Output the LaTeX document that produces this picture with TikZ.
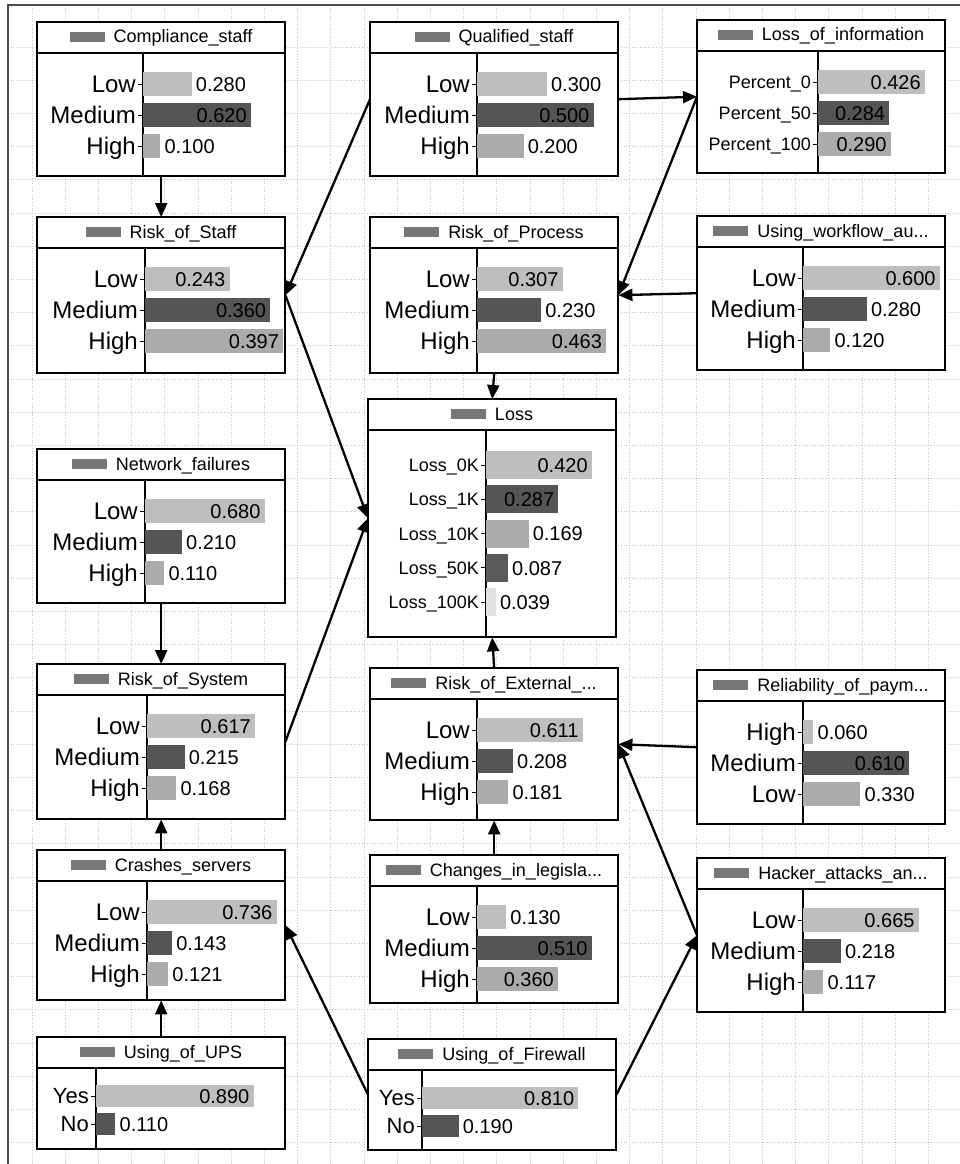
\documentclass[tikz,border=0pt]{standalone}
\usepackage{fontspec}
\setmainfont{Liberation Sans}
\usetikzlibrary{arrows.meta}
\definecolor{legend}{HTML}{777777}
\definecolor{bar1}{HTML}{BEBEBE}
\definecolor{bar2}{HTML}{555555}
\definecolor{bar3}{HTML}{ABABAB}
\definecolor{bar4}{HTML}{5A5A5A}
\definecolor{bar5}{HTML}{E2E2E2}
\newcommand{\bnrowone}{31}
\newcommand{\bnrowsep}{31}
\newcommand{\bnbarh}{24}
\newcommand{\bnlabfont}{\fontsize{24}{26}\selectfont}
\newcommand{\bnlabcap}{17.2pt}
\newcommand{\bnnode}[8]{%
  \node[bnbox, minimum height={(#4-#3)*1pt}] (#1) at (#2,#3) {};
  \draw[bnthin] (#2,#3+31) rectangle (#2+248,#4);
  \draw[bnthick] (#2,#3+31) rectangle (#2+#5,#4);
  \draw[bnthick] (#2,#3) rectangle (#2+248,#3+31);
  \node[bntitle] at (#2+124,#3+21) {\textcolor{legend}{\rule[1pt]{35pt}{10pt}}\hspace{9pt}#7};
  \foreach \lab/\val/\side [count=\i] in {#8}{
    \pgfmathsetmacro{\rowy}{#3+31+\bnrowone+(\i-1)*\bnrowsep}
    \pgfmathsetmacro{\barx}{#2+#5+\val*#6}
    \pgfmathsetmacro{\valx}{\barx-4*cos(\side)}
    \fill[bar\i] (#2+#5,\rowy-\bnbarh/2) rectangle (\barx,\rowy+\bnbarh/2);
    \draw[line width=1pt] (#2+#5-5,\rowy) -- (#2+#5,\rowy);
    \node[bnlabel] at (#2+#5-7,\rowy) {\lab};
    \node[bnvalue, anchor=\side] at (\valx,\rowy) {\val};
  }
}

\begin{document}
\begin{tikzpicture}[x=1pt, y=-1pt, line join=miter, >={Triangle[length=14pt,width=12pt]},
    bnbox/.style={fill=white, inner sep=0, minimum width=248, anchor=north west},
    bnthick/.style={line width=2.4pt},
    bnthin/.style={line width=1.1pt},
    bntitle/.style={anchor=base, inner sep=0, font=\fontsize{18}{20}\selectfont},
    bnlabel/.style={anchor=east, inner sep=0, text height=\bnlabcap, text depth=0pt, font=\bnlabfont},
    bnvalue/.style={inner sep=0, text height=14.3pt, text depth=0pt, font=\fontsize{20}{22}\selectfont},
    gridline/.style={gray!45, dotted, line width=0.7pt},
    bnarrow/.style={->, line width=2.3pt}]
  \useasboundingbox (0,0) rectangle (960,1164);
  \foreach \gx in {0,...,27}
    \draw[gridline] (32+\gx*33.2,5) -- (32+\gx*33.2,1164);
  \foreach \gy in {0,...,33}
    \draw[gridline] (8,47+\gy*33.2) -- (960,47+\gy*33.2);
  \draw[gray!60!black, line width=1.5pt] (8,1164) -- (8,5) -- (960,5);

  \bnnode{cstaff}{37}{22}{176}{106}{174}{Compliance\_staff}{Low/0.280/180, Medium/0.620/0, High/0.100/180}
  \bnnode{qstaff}{370}{22}{176}{107}{233}{Qualified\_staff}{Low/0.300/180, Medium/0.500/0, High/0.200/180}
  \bnnode{rstaff}{37}{217}{373}{108}{348}{Risk\_of\_Staff}{Low/0.243/0, Medium/0.360/0, High/0.397/0}
  \bnnode{rprocess}{370}{217}{373}{107}{279}{Risk\_of\_Process}{Low/0.307/0, Medium/0.230/180, High/0.463/0}
  \bnnode{workflow}{697}{216}{370}{106}{228}{Using\_workflow\_au...}{Low/0.600/0, Medium/0.280/180, High/0.120/180}
  \bnnode{netfail}{37}{449}{603}{108}{176}{Network\_failures}{Low/0.680/0, Medium/0.210/180, High/0.110/180}
  \bnnode{rsystem}{37}{664}{819}{110}{175}{Risk\_of\_System}{Low/0.617/0, Medium/0.215/180, High/0.168/180}
  \bnnode{rexternal}{370}{668}{820}{107}{173}{Risk\_of\_External\_...}{Low/0.611/0, Medium/0.208/180, High/0.181/180}
  \bnnode{reliab}{697}{670}{824}{106}{174}{Reliability\_of\_paym...}{High/0.060/180, Medium/0.610/0, Low/0.330/180}
  \bnnode{crash}{37}{850}{1000}{110}{176}{Crashes\_servers}{Low/0.736/0, Medium/0.143/180, High/0.121/180}
  \bnnode{legis}{370}{855}{1003}{107}{225}{Changes\_in\_legisla...}{Low/0.130/180, Medium/0.510/0, High/0.360/0}
  \bnnode{hacker}{697}{858}{1012}{106}{174}{Hacker\_attacks\_an...}{Low/0.665/0, Medium/0.218/180, High/0.117/180}

  \renewcommand{\bnlabfont}{\fontsize{18}{20}\selectfont}
  \renewcommand{\bnlabcap}{12.9pt}
  \bnnode{lossinfo}{697}{20}{173}{121}{251}{Loss\_of\_information}{Percent\_0/0.426/0, Percent\_50/0.284/0, Percent\_100/0.290/0}
  \renewcommand{\bnrowone}{35}
  \renewcommand{\bnrowsep}{34.3}
  \renewcommand{\bnbarh}{28}
  \bnnode{loss}{368}{399}{637}{118}{252}{Loss}{Loss\_0K/0.420/0, Loss\_1K/0.287/0, Loss\_10K/0.169/180, Loss\_50K/0.087/180, Loss\_100K/0.039/180}

  \renewcommand{\bnlabfont}{\fontsize{22}{24}\selectfont}
  \renewcommand{\bnlabcap}{15.8pt}
  \renewcommand{\bnrowone}{28}
  \renewcommand{\bnrowsep}{28}
  \renewcommand{\bnbarh}{22}
  \bnnode{ups}{37}{1037}{1149}{59}{177}{Using\_of\_UPS}{Yes/0.890/0, No/0.110/180}
  \bnnode{firewall}{368}{1039}{1150}{54}{193}{Using\_of\_Firewall}{Yes/0.810/0, No/0.190/180}

  \draw[bnarrow] (cstaff.south) -- (rstaff.north);
  \draw[bnarrow] (qstaff.west) -- (rstaff.east);
  \draw[bnarrow] (qstaff.east) -- (lossinfo.west);
  \draw[bnarrow] (lossinfo.west) -- (rprocess.east);
  \draw[bnarrow] (workflow.west) -- (rprocess.east);
  \draw[bnarrow] (rprocess.south) -- (loss.north);
  \draw[bnarrow] (rstaff.east) -- (loss.west);
  \draw[bnarrow] (rsystem.east) -- (loss.west);
  \draw[bnarrow] (rexternal.north) -- (loss.south);
  \draw[bnarrow] (reliab.west) -- (rexternal.east);
  \draw[bnarrow] (hacker.west) -- (rexternal.east);
  \draw[bnarrow] (legis.north) -- (rexternal.south);
  \draw[bnarrow] (netfail.south) -- (rsystem.north);
  \draw[bnarrow] (crash.north) -- (rsystem.south);
  \draw[bnarrow] (ups.north) -- (crash.south);
  \draw[bnarrow] (firewall.west) -- (crash.east);
  \draw[bnarrow] (firewall.east) -- (hacker.west);
\end{tikzpicture}
\end{document}
